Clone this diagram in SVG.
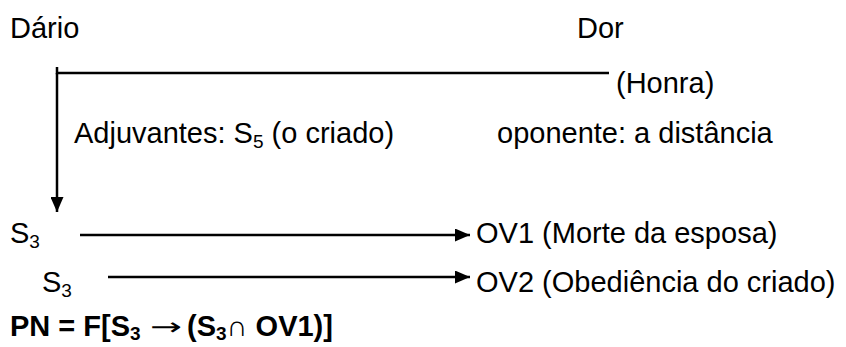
<svg xmlns="http://www.w3.org/2000/svg" width="846" height="347" viewBox="0 0 846 347">
<defs>
<style>
text{font-family:"Liberation Sans",Arial,sans-serif;font-size:29px;fill:#000}
.b{font-weight:bold}
.sub{font-size:19px}
.ln{stroke:#000;stroke-width:2.5;fill:none}
</style>
<marker id="ah" viewBox="0 0 15 13" refX="15" refY="6.5" markerWidth="15" markerHeight="13" markerUnits="userSpaceOnUse" orient="auto"><path d="M0,0L15,6.5L0,13z" fill="#000"/></marker>
</defs>
<rect width="846" height="347" fill="#fff"/>
<g id="dario"><text x="10" y="38">Dário</text></g>
<g id="dor"><text x="577" y="38">Dor</text></g>
<g id="honra"><text x="616" y="93">(Honra)</text></g>
<g id="adjuvantes"><text x="74" y="143">Adjuvantes: S<tspan class="sub" dy="5">5</tspan><tspan dy="-5"> (o criado)</tspan></text></g>
<g id="oponente"><text x="497" y="143">oponente: a distância</text></g>
<g id="s3a"><text x="10" y="243">S<tspan class="sub" dy="5">3</tspan></text></g>
<g id="ov1"><text x="476" y="243">OV1 (Morte da esposa)</text></g>
<g id="s3b"><text x="42" y="292">S<tspan class="sub" dy="5">3</tspan></text></g>
<g id="ov2"><text x="476" y="292">OV2 (Obediência do criado)</text></g>
<g id="pn">
<text class="b" x="10" y="336">PN = F[S<tspan class="sub" dy="4">3</tspan></text>
<text x="150" y="335" textLength="32" lengthAdjust="spacingAndGlyphs" style="font-family:'DejaVu Sans',sans-serif;font-size:24px">→</text>
<text class="b" x="187" y="336">(S<tspan class="sub" dy="4">3</tspan><tspan dy="-4">∩ OV1)]</tspan></text>
</g>
<g id="connectors">
<path class="ln" d="M57,67V73H609"/>
<path class="ln" d="M57,73V212" marker-end="url(#ah)"/>
<path class="ln" d="M80,235H470" marker-end="url(#ah)"/>
<path class="ln" d="M108,277H470" marker-end="url(#ah)"/>
</g>
</svg>
